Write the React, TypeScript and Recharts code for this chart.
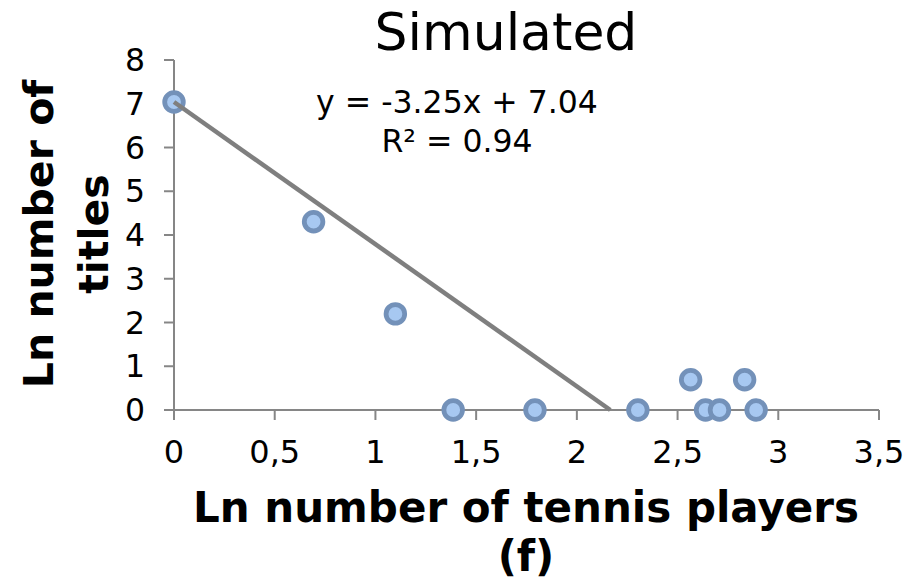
import React from "react";
import { ScatterChart, Scatter, XAxis, YAxis } from "recharts";

const lnPlayers = [0, 0.693, 1.099, 1.386, 1.792, 2.303, 2.565, 2.639, 2.708, 2.833, 2.89];
const lnTitles = [7.04, 4.304, 2.197, 0, 0, 0, 0.693, 0, 0, 0.693, 0];
const xTicks = [0, 0.5, 1, 1.5, 2, 2.5, 3, 3.5];
const yTicks = [0, 1, 2, 3, 4, 5, 6, 7, 8];
const trendSlope = -3.25;
const trendIntercept = 7.04;
const rSquared = 0.94;

const points = lnPlayers.map((x, i) => ({ x, y: lnTitles[i] }));
const trend = [
  { x: 0, y: trendIntercept },
  { x: -trendIntercept / trendSlope, y: 0 },
];

const FONT = "'DejaVu Sans', Verdana, sans-serif";
const AXIS = "#868686";

const Marker = (props: any) => {
  const { cx, cy } = props;
  if (cx == null || cy == null) return <g />;
  return <circle cx={cx} cy={cy} r={9.3} fill="#A7C8F1" stroke="#7391B9" strokeWidth={4.8} />;
};

const NoMarker = () => <g />;

export default function App() {
  return (
    <div style={{ position: "absolute", left: 0, top: 0, width: 920, height: 583, background: "#fff" }}>
      <ScatterChart
        width={920}
        height={583}
        margin={{ top: 60, right: 41, bottom: 133, left: 114 }}
      >
        <XAxis
          type="number"
          dataKey="x"
          domain={[0, 3.5]}
          ticks={xTicks}
          tickFormatter={(v: number) => String(v).replace(".", ",")}
          height={40}
          stroke={AXIS}
          strokeWidth={2}
          tickSize={10}
          tickMargin={20}
          tick={{ fill: "#000", fontSize: 32, fontFamily: FONT }}
          tickLine={{ stroke: AXIS, strokeWidth: 2 }}
        />
        <YAxis
          type="number"
          dataKey="y"
          domain={[0, 8]}
          ticks={yTicks}
          width={60}
          stroke={AXIS}
          strokeWidth={2}
          tickSize={10}
          tickMargin={19}
          tick={{ fill: "#000", fontSize: 31.5, fontFamily: FONT }}
          tickLine={{ stroke: AXIS, strokeWidth: 2 }}
        />
        <Scatter data={points} shape={Marker} isAnimationActive={false} />
        <Scatter
          data={trend}
          shape={NoMarker}
          line={{ stroke: "#7F7F7F", strokeWidth: 4.5 }}
          isAnimationActive={false}
        />
      </ScatterChart>
      <svg
        width={920}
        height={583}
        style={{ position: "absolute", left: 0, top: 0, pointerEvents: "none" }}
        fontFamily={FONT}
      >
        <text x={506} y={50} textAnchor="middle" fontSize={52} fill="#000">Simulated</text>
        <text x={457} y={113} textAnchor="middle" fontSize={31.5} fill="#000">
          {`y = ${trendSlope.toFixed(2)}x + ${trendIntercept.toFixed(2)}`}
        </text>
        <text x={457} y={152} textAnchor="middle" fontSize={31.5} fill="#000">
          {`R² = ${rSquared.toFixed(2)}`}
        </text>
        <text x={526} y={522} textAnchor="middle" fontSize={42} fontWeight="bold" fill="#000">
          Ln number of tennis players
        </text>
        <text x={526} y={571} textAnchor="middle" fontSize={42} fontWeight="bold" fill="#000">
          (f)
        </text>
        <text x={53} y={234} transform="rotate(-90 53 234)" textAnchor="middle" fontSize={41} fontWeight="bold" fill="#000">
          Ln number of
        </text>
        <text x={108} y={234} transform="rotate(-90 108 234)" textAnchor="middle" fontSize={41} fontWeight="bold" fill="#000">
          titles
        </text>
      </svg>
    </div>
  );
}
